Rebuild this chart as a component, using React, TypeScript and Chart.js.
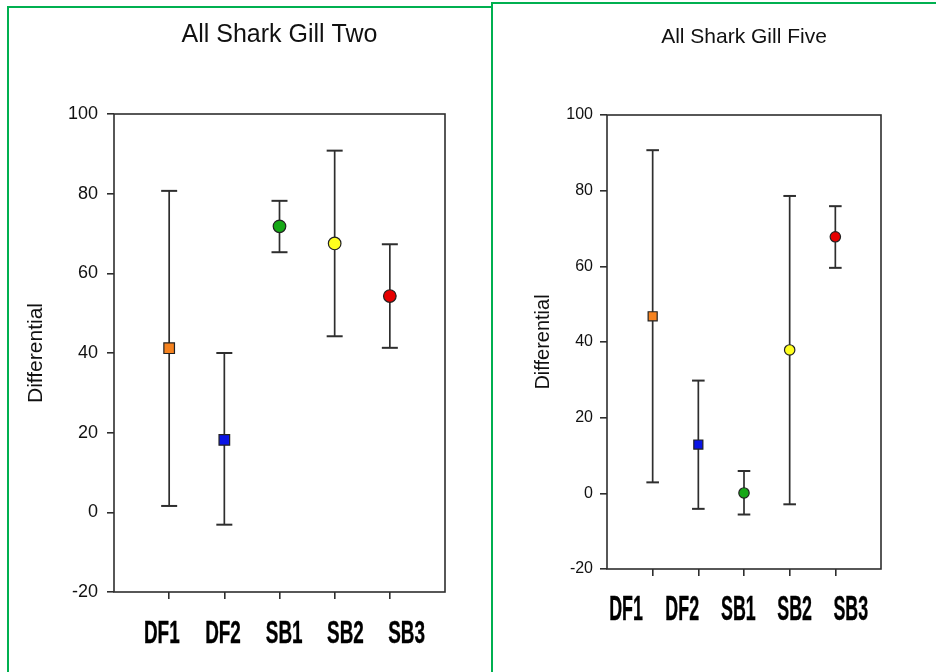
import React, { useEffect, useRef } from "react";
import { Chart, registerables } from "chart.js";

Chart.register(...registerables);

// ---------------- data ----------------
const categories = ["DF1", "DF2", "SB1", "SB2", "SB3"];
const markerShapes = ["rect", "rect", "circle", "circle", "circle"];
const markerColors = ["#f5821f", "#0a14e6", "#16a816", "#ffff1e", "#e60000"];
const yTickValues = [-20, 0, 20, 40, 60, 80, 100];

const gillTwoMean = [41.2, 18.2, 71.8, 67.5, 54.3];
const gillTwoUpper = [80.7, 40.0, 78.2, 90.8, 67.3];
const gillTwoLower = [1.6, -3.1, 65.3, 44.2, 41.3];

const gillFiveMean = [46.8, 12.9, 0.1, 37.9, 67.8];
const gillFiveUpper = [90.7, 29.8, 5.9, 78.6, 75.9];
const gillFiveLower = [2.9, -4.1, -5.6, -2.9, 59.6];

// ---------------- styling ----------------
const FONT = '"Liberation Sans", Arial, Helvetica, sans-serif';
const INK = "#111111";
const LINE = "#2e2e2e";
const GREEN = "#00b050";

type Panel = {
  title: string;
  mean: number[];
  upper: number[];
  lower: number[];
  box: { left: number; top: number; width: number; height: number };
  pad: { top: number; right: number; bottom: number; left: number };
  titleFont: number;
  titleLineHeight: number;
  titlePadTop: number;
  titlePadBottom: number;
  axisWidth: number;
  tickFont: number;
  tickPad: number;
  yTitleFont: number;
  yTitlePad: number;
  labelRange: [number, number];
  labelSize: number;
  labelScaleX: number;
  labelBaseline: number;
  markerRadius: number[];
  capRadius: number;
};

const frameBox = {
  id: "frameBox",
  beforeDatasetsDraw(chart: any, _args: any, opts: any) {
    const { ctx, chartArea: a } = chart;
    ctx.save();
    ctx.strokeStyle = opts.color;
    ctx.lineWidth = opts.width;
    ctx.strokeRect(a.left, a.top, a.right - a.left, a.bottom - a.top);
    ctx.restore();
  },
};

const stretchedLabels = {
  id: "stretchedLabels",
  afterDraw(chart: any, _args: any, opts: any) {
    const scale = chart.scales[opts.axisId];
    if (!scale) return;
    const { ctx, chartArea } = chart;
    ctx.save();
    ctx.font = `bold ${opts.size}px ${FONT}`;
    ctx.fillStyle = opts.color;
    ctx.strokeStyle = opts.color;
    ctx.lineWidth = opts.stroke;
    ctx.lineJoin = "round";
    ctx.textAlign = "center";
    ctx.textBaseline = "alphabetic";
    (opts.labels as string[]).forEach((label, i) => {
      const x = scale.getPixelForValue(i + 1);
      const y = chartArea.bottom + opts.baseline;
      ctx.save();
      ctx.translate(x, y);
      ctx.scale(opts.scaleX, 1);
      ctx.fillText(label, 0, 0);
      if (opts.stroke > 0) ctx.strokeText(label, 0, 0);
      ctx.restore();
    });
    ctx.restore();
  },
};

function buildConfig(p: Panel): any {
  const markers = {
    label: "Mean",
    data: categories.map((_, i) => ({ x: i + 1, y: p.mean[i] })),
    showLine: false,
    pointStyle: markerShapes,
    pointRadius: p.markerRadius,
    pointHoverRadius: p.markerRadius,
    pointBackgroundColor: markerColors,
    pointBorderColor: "#222",
    pointBorderWidth: 1.2,
    xAxisID: "x",
    yAxisID: "y",
  };
  const bars = categories.map((c, i) => ({
    label: c + " range",
    data: [
      { x: i + 1, y: p.lower[i] },
      { x: i + 1, y: p.upper[i] },
    ],
    showLine: true,
    borderColor: LINE,
    borderWidth: 1.7,
    pointStyle: "line",
    pointRadius: p.capRadius,
    pointHoverRadius: p.capRadius,
    pointBorderColor: LINE,
    pointBackgroundColor: LINE,
    pointBorderWidth: 2,
    xAxisID: "x",
    yAxisID: "y",
  }));

  return {
    type: "scatter",
    data: { datasets: [markers, ...bars] },
    plugins: [frameBox, stretchedLabels],
    options: {
      responsive: false,
      animation: false,
      devicePixelRatio: 1,
      layout: { padding: p.pad },
      events: [],
      plugins: {
        legend: { display: false },
        tooltip: { enabled: false },
        title: {
          display: true,
          text: p.title,
          fullSize: false,
          color: INK,
          font: { family: FONT, size: p.titleFont, weight: "normal", lineHeight: p.titleLineHeight },
          padding: { top: p.titlePadTop, bottom: p.titlePadBottom },
        },
        frameBox: { color: LINE, width: 1.6 },
        stretchedLabels: {
          axisId: "xl",
          labels: categories,
          size: p.labelSize,
          scaleX: p.labelScaleX,
          baseline: p.labelBaseline,
          stroke: 0.4,
          color: "#000000",
        },
      },
      scales: {
        x: {
          type: "linear",
          position: "bottom",
          min: 0,
          max: categories.length + 1,
          afterBuildTicks: (s: any) => {
            s.ticks = categories.map((_, i) => ({ value: i + 1 }));
          },
          ticks: { display: false },
          grid: {
            display: true,
            drawOnChartArea: false,
            drawTicks: true,
            tickLength: 7,
            color: LINE,
            lineWidth: 1.6,
          },
          border: { display: false },
        },
        xl: {
          type: "linear",
          position: "bottom",
          display: false,
          min: p.labelRange[0],
          max: p.labelRange[1],
          ticks: { display: false },
          grid: { display: false },
        },
        y: {
          type: "linear",
          position: "left",
          min: yTickValues[0],
          max: yTickValues[yTickValues.length - 1],
          afterBuildTicks: (s: any) => {
            s.ticks = yTickValues.map((v) => ({ value: v }));
          },
          afterFit: (s: any) => {
            s.width = p.axisWidth;
          },
          ticks: {
            color: INK,
            padding: p.tickPad,
            font: { family: FONT, size: p.tickFont },
            callback: (v: any) => String(v),
          },
          grid: {
            display: true,
            drawOnChartArea: false,
            drawTicks: true,
            tickLength: 7,
            color: LINE,
            lineWidth: 1.6,
          },
          border: { display: false },
          title: {
            display: true,
            text: "Differential",
            color: INK,
            font: { family: FONT, size: p.yTitleFont, lineHeight: 1.2 },
            padding: { top: p.yTitlePad, bottom: 0 },
          },
        },
      },
    },
  };
}

const leftPanel: Panel = {
  title: "All Shark Gill Two",
  mean: gillTwoMean,
  upper: gillTwoUpper,
  lower: gillTwoLower,
  box: { left: 9, top: 9, width: 480, height: 663 },
  pad: { top: 0, right: 44, bottom: 73, left: 0 },
  titleFont: 25,
  titleLineHeight: 1.2,
  titlePadTop: 11,
  titlePadBottom: 64,
  axisWidth: 105,
  tickFont: 18,
  tickPad: 9,
  yTitleFont: 21,
  yTitlePad: 15,
  labelRange: [0.219, 5.627],
  labelSize: 31,
  labelScaleX: 0.61,
  labelBaseline: 50.7,
  markerRadius: [7.5, 7.5, 6.3, 6.3, 6.3],
  capRadius: 8,
};

const rightPanel: Panel = {
  title: "All Shark Gill Five",
  mean: gillFiveMean,
  upper: gillFiveUpper,
  lower: gillFiveLower,
  box: { left: 494, top: 5, width: 442, height: 667 },
  pad: { top: 0, right: 55, bottom: 96, left: 0 },
  titleFont: 21,
  titleLineHeight: 1.2,
  titlePadTop: 20,
  titlePadBottom: 64.8,
  axisWidth: 113,
  tickFont: 16,
  tickPad: 7,
  yTitleFont: 20,
  yTitlePad: 37.5,
  labelRange: [0.662, 5.537],
  labelSize: 35,
  labelScaleX: 0.51,
  labelBaseline: 50.6,
  markerRadius: [6.4, 6.4, 5.2, 5.2, 5.2],
  capRadius: 6.3,
};

function PanelChart({ p }: { p: Panel }) {
  const ref = useRef<HTMLCanvasElement>(null);
  useEffect(() => {
    if (!ref.current) return;
    const chart = new Chart(ref.current, buildConfig(p));
    return () => chart.destroy();
  }, [p]);
  return (
    <canvas
      ref={ref}
      width={p.box.width}
      height={p.box.height}
      style={{
        position: "absolute",
        left: p.box.left,
        top: p.box.top,
        width: p.box.width,
        height: p.box.height,
      }}
    />
  );
}

export default function App() {
  return (
    <div
      style={{
        position: "fixed",
        left: 0,
        top: 0,
        width: 936,
        height: 672,
        overflow: "hidden",
        background: "#ffffff",
      }}
    >
      <div
        style={{
          position: "absolute",
          left: 7,
          top: 6,
          width: 486,
          height: 700,
          borderLeft: `2px solid ${GREEN}`,
          borderTop: `2px solid ${GREEN}`,
          boxSizing: "border-box",
        }}
      />
      <div
        style={{
          position: "absolute",
          left: 491,
          top: 2,
          width: 470,
          height: 700,
          borderLeft: `2px solid ${GREEN}`,
          borderTop: `2px solid ${GREEN}`,
          boxSizing: "border-box",
        }}
      />
      <PanelChart p={leftPanel} />
      <PanelChart p={rightPanel} />
    </div>
  );
}
